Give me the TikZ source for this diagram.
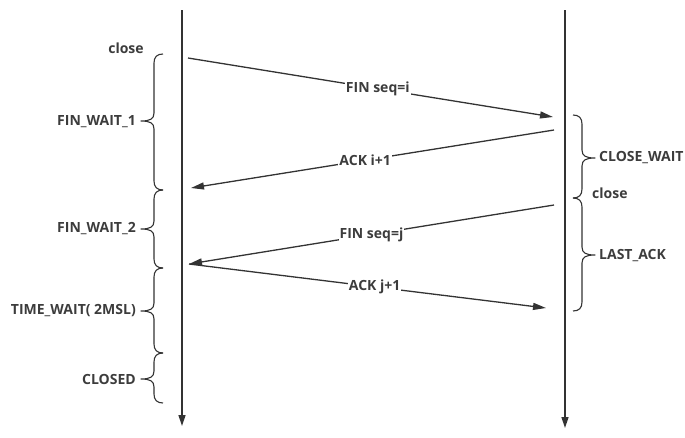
\documentclass[tikz,border=0pt]{standalone}
\usepackage{fontspec}
\setmainfont{Open Sans}
\usetikzlibrary{arrows.meta}
\definecolor{ink}{HTML}{333333}
\definecolor{txt}{HTML}{3C3C3C}
\tikzset{
  lifeline/.style={draw=ink,line width=1.4pt,-{Triangle[length=11pt,width=7pt]}},
  msg/.style={draw=ink,line width=1.3pt,-{Triangle[length=13pt,width=7pt]}},
  msglabel/.style={fill=white,inner sep=1pt,text=txt,font=\bfseries\fontsize{14}{16}\selectfont},
  lbl/.style={text=txt,font=\bfseries\fontsize{14}{16}\selectfont,inner sep=1pt},
  bracestyle/.style={draw=ink,line width=1.1pt,line join=round},
}
% left-pointing brace: top y, bottom y, tip y
\newcommand{\myBraceL}[3]{\draw[bracestyle] (163,#1) .. controls (157,#1) and (154,#1+3) .. (154,#1+9) -- (154,#3-8) .. controls (154,#3-2) and (150,#3) .. (141,#3) .. controls (150,#3) and (154,#3+2) .. (154,#3+8) -- (154,#2-9) .. controls (154,#2-3) and (157,#2) .. (163,#2);}
% right-pointing brace
\newcommand{\myBraceR}[3]{\draw[bracestyle] (573,#1) .. controls (579,#1) and (582,#1+3) .. (582,#1+9) -- (582,#3-8) .. controls (582,#3-2) and (586,#3) .. (595,#3) .. controls (586,#3) and (582,#3+2) .. (582,#3+8) -- (582,#2-9) .. controls (582,#2-3) and (579,#2) .. (573,#2);}
\begin{document}
\begin{tikzpicture}[x=1pt,y=-1pt]
\useasboundingbox (0,0) rectangle (685,437);
% lifelines
\coordinate (Ltop) at (182,10);
\coordinate (Lbot) at (182,426);
\coordinate (Rtop) at (565,10);
\coordinate (Rbot) at (565,428);
\draw[lifeline] (Ltop) -- (Lbot);
\draw[lifeline] (Rtop) -- (Rbot);
% message endpoints
\coordinate (m1s) at (188,58);
\coordinate (m1e) at (553,117);
\coordinate (m2s) at (554,130);
\coordinate (m2e) at (191,188);
\coordinate (m3s) at (554,205);
\coordinate (m3e) at (189,264);
\coordinate (m4s) at (189,264);
\coordinate (m4e) at (546,308);
\draw[msg] (m1s) -- node[msglabel,pos=0.52] (l1) {FIN seq=i} (m1e);
\draw[msg] (m2s) -- node[msglabel,pos=0.52] (l2) {ACK i+1} (m2e);
\draw[msg] (m3s) -- node[msglabel,pos=0.5] (l3) {FIN seq=j} (m3e);
\draw[msg] (m4s) -- node[msglabel,pos=0.52] (l4) {ACK j+1} (m4e);
% left braces
\myBraceL{54}{190}{121}
\myBraceL{190}{268}{229}
\myBraceL{268}{353}{311}
\myBraceL{353}{403}{379}
\node[lbl,anchor=east] (fw1) at (137,122) {FIN\_WAIT\_1};
\node[lbl,anchor=east] (fw2) at (137,229) {FIN\_WAIT\_2};
\node[lbl,anchor=east] (tw) at (137,311) {TIME\_WAIT( 2MSL)};
\node[lbl,anchor=east] (cl) at (137,379) {CLOSED};
\node[lbl] (closeL) at (126,48) {close};
% right braces
\myBraceR{115}{198}{158}
\myBraceR{198}{311}{255}
\node[lbl,anchor=west] (cw) at (598,158) {CLOSE\_WAIT};
\node[lbl,anchor=west] (la) at (598,256) {LAST\_ACK};
\node[lbl,anchor=west] (closeR) at (591,193) {close};
\end{tikzpicture}
\end{document}
